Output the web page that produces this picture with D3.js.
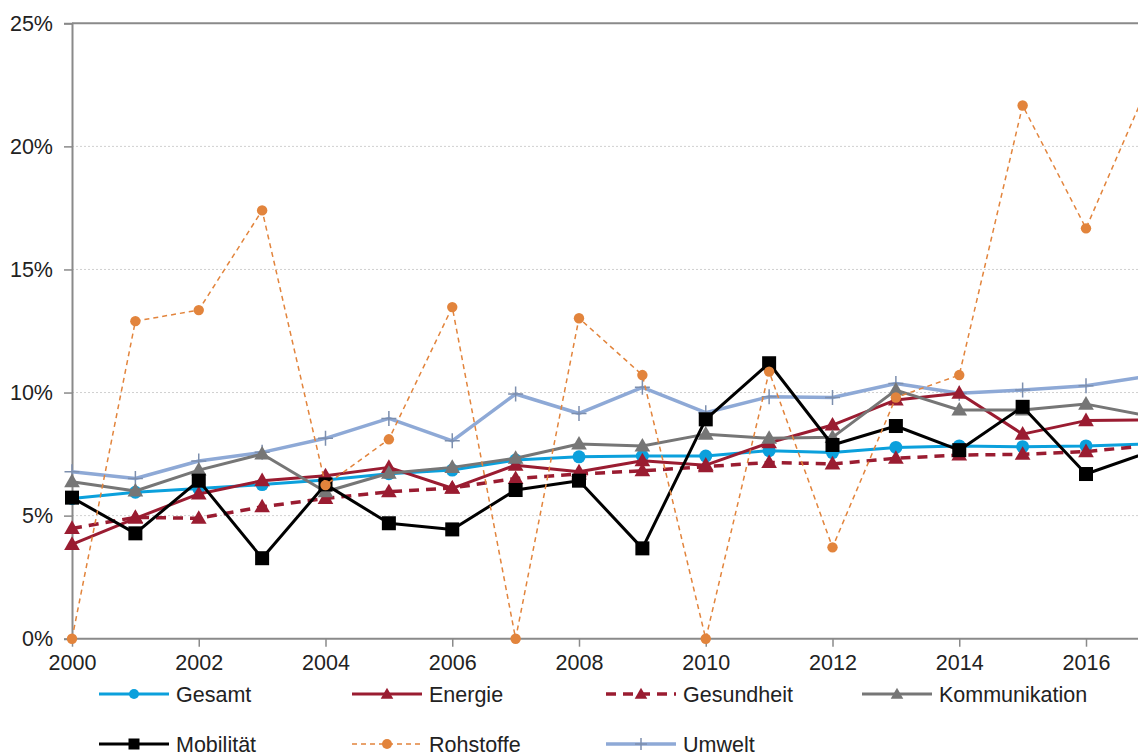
<!doctype html>
<html>
<head>
<meta charset="utf-8"/>
<script src="https://cdnjs.cloudflare.com/ajax/libs/d3/7.8.5/d3.min.js"></script>
<style>
  body { margin: 0; background: #fff; }
  text { font-family: "Liberation Sans", Arial, sans-serif; fill: #222; }
  .grid line { stroke: #d0d0d0; stroke-dasharray: 2,2; }
</style>
</head>
<body>
<svg width="1138" height="756"></svg>
<script>
// years shown (2017 runs past the right edge and gets cut off)
var years = [2000,2001,2002,2003,2004,2005,2006,2007,2008,2009,2010,2011,2012,2013,2014,2015,2016,2017];
var yTicks = [0,5,10,15,20,25];
var xTicks = [2000,2002,2004,2006,2008,2010,2012,2014,2016];

var gesamt        = [5.70,5.95,6.10,6.26,6.45,6.70,6.85,7.26,7.39,7.42,7.42,7.64,7.56,7.77,7.83,7.80,7.83,7.92];
var energie       = [3.83,4.89,5.88,6.42,6.62,6.96,6.11,7.05,6.78,7.23,7.05,7.96,8.68,9.70,9.97,8.31,8.86,8.89];
var gesundheit    = [4.48,4.93,4.89,5.36,5.70,5.97,6.12,6.51,6.69,6.82,6.99,7.16,7.10,7.33,7.46,7.49,7.60,7.85];
var kommunikation = [6.38,6.00,6.85,7.50,5.97,6.72,6.96,7.33,7.91,7.83,8.31,8.14,8.18,10.10,9.29,9.29,9.53,9.04];
var mobilitaet    = [5.73,4.28,6.42,3.27,6.27,4.69,4.44,6.04,6.42,3.67,8.91,11.19,7.87,8.64,7.66,9.42,6.69,7.59];
var rohstoffe     = [0,12.90,13.35,17.40,6.24,8.10,13.47,0,13.02,10.71,0,10.85,3.71,9.80,10.71,21.66,16.67,22.60];
var umwelt        = [6.78,6.51,7.22,7.57,8.14,8.95,8.04,9.94,9.15,10.21,9.18,9.83,9.80,10.37,9.97,10.10,10.28,10.67];

var series = [
  {name:"Umwelt", values: umwelt, color:"#8EA9D6", width:3.5, dash:null, marker:"plus", mcolor:"#7d8fae", size:7.5},
  {name:"Gesamt", values: gesamt, color:"#0BA0DC", width:3, dash:null, marker:"circle", mcolor:"#0BA0DC", size:6.5},
  {name:"Energie", values: energie, color:"#9A1C31", width:3, dash:null, marker:"triangle", mcolor:"#9A1C31", size:7.5},
  {name:"Gesundheit", values: gesundheit, color:"#9A1C31", width:3.5, dash:"10,7", marker:"triangle", mcolor:"#9A1C31", size:7.5},
  {name:"Kommunikation", values: kommunikation, color:"#767676", width:3, dash:null, marker:"triangle", mcolor:"#767676", size:7.5},
  {name:"Mobilität", values: mobilitaet, color:"#000000", width:3, dash:null, marker:"square", mcolor:"#000000", size:7},
  {name:"Rohstoffe", values: rohstoffe, color:"#E2843C", width:1.5, dash:"5,4", marker:"circle", mcolor:"#E2843C", size:5.2}
];
var legendOrder = ["Gesamt","Energie","Gesundheit","Kommunikation","Mobilität","Rohstoffe","Umwelt"];

var svg = d3.select("svg");
var x = d3.scaleLinear().domain([2000, 2016]).range([72, 1086]);
var y = d3.scaleLinear().domain([0, 25]).range([638.7, 23.3]);

// grid
svg.append("g").attr("class","grid")
  .selectAll("line").data(yTicks.filter(d => d > 0 && d < 25)).enter().append("line")
  .attr("x1", 72).attr("x2", 1138)
  .attr("y1", d => y(d)).attr("y2", d => y(d));

// top border
svg.append("line").attr("x1", 72).attr("x2", 1138).attr("y1", y(25)).attr("y2", y(25))
  .attr("stroke", "#8a8a8a").attr("stroke-width", 2);

// axes
var yAxis = svg.append("g").attr("transform", "translate(72,0)")
  .call(d3.axisLeft(y).tickValues(yTicks).tickSize(8).tickPadding(11).tickFormat(d => d + "%"));
var xAxis = svg.append("g").attr("transform", "translate(0," + y(0) + ")")
  .call(d3.axisBottom(x).tickValues(xTicks).tickSize(8).tickPadding(8).tickFormat(d3.format("d")));
[yAxis, xAxis].forEach(a => {
  a.select(".domain").attr("stroke", "#8a8a8a").attr("stroke-width", 2);
  a.selectAll(".tick line").attr("stroke", "#8a8a8a").attr("stroke-width", 1.5);
  a.selectAll("text").style("font-size", "21.5px").attr("fill", "#222");
});
xAxis.select(".domain").attr("d", "M72,0H1138");

function drawMarker(g, type, cx, cy, s, color) {
  if (type === "circle") {
    g.append("circle").attr("cx", cx).attr("cy", cy).attr("r", s).attr("fill", color);
  } else if (type === "square") {
    g.append("rect").attr("x", cx - s).attr("y", cy - s).attr("width", 2*s).attr("height", 2*s).attr("fill", color);
  } else if (type === "triangle") {
    g.append("path").attr("d", d3.symbol(d3.symbolTriangle, s*s*1.9)()).attr("transform", "translate(" + cx + "," + (cy+1) + ")").attr("fill", color);
  } else if (type === "plus") {
    g.append("path").attr("d", "M" + (cx - s) + "," + cy + "H" + (cx + s) + "M" + cx + "," + (cy - s) + "V" + (cy + s))
      .attr("stroke", color).attr("stroke-width", 1.5).attr("fill", "none");
  }
}

var line = d3.line().x((d, i) => x(years[i])).y(d => y(d));
series.forEach(s => {
  var g = svg.append("g");
  g.append("path").attr("d", line(s.values)).attr("fill", "none")
    .attr("stroke", s.color).attr("stroke-width", s.width)
    .attr("stroke-dasharray", s.dash).attr("stroke-linejoin", "round");
  s.values.forEach((v, i) => drawMarker(g, s.marker, x(years[i]), y(v), s.size, s.mcolor));
});

// legend
var legCols = [99, 352, 606, 862];
var legRows = [694, 744];
legendOrder.forEach((name, i) => {
  var s = series.find(d => d.name === name);
  var lx = legCols[i % 4], ly = legRows[Math.floor(i / 4)];
  var g = svg.append("g");
  g.append("line").attr("x1", lx).attr("x2", lx + 70).attr("y1", ly).attr("y2", ly)
    .attr("stroke", s.color).attr("stroke-width", s.width).attr("stroke-dasharray", s.dash);
  drawMarker(g, s.marker, lx + 35, ly, s.marker === "circle" ? 5 : s.size - 1.5, s.mcolor);
  g.append("text").attr("x", lx + 77).attr("y", ly + 7.5).style("font-size", "21.5px").text(name);
});
</script>
</body>
</html>
